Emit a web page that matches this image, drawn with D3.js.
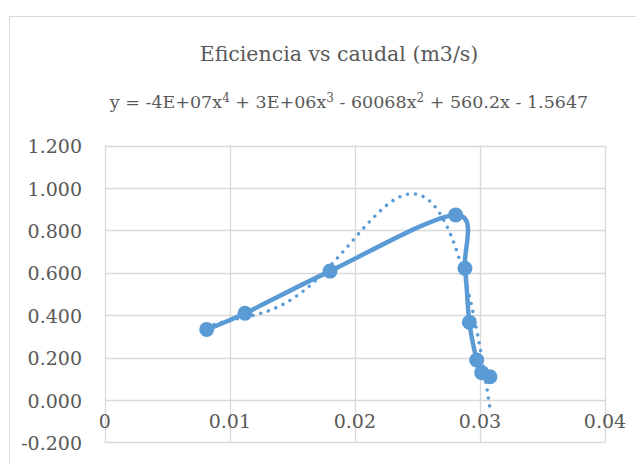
<!DOCTYPE html>
<html>
<head>
<meta charset="utf-8">
<script src="https://cdn.jsdelivr.net/npm/d3@7"></script>
<style>
  html, body { margin: 0; padding: 0; background: #fff; }
  svg { display: block; }
  text { font-family: "DejaVu Serif", "Liberation Serif", serif; fill: #595959; }
</style>
</head>
<body>
<svg id="chart" width="636" height="464"></svg>
<script>
// ---- data ----
const title = "Eficiencia vs caudal (m3/s)";
const caudal = [0.00815, 0.01121, 0.01801, 0.02806, 0.02880, 0.02915, 0.02974, 0.03014, 0.03080];
const eficiencia = [0.333, 0.409, 0.608, 0.873, 0.621, 0.367, 0.189, 0.129, 0.110];
const xTicks = [0, 0.01, 0.02, 0.03, 0.04];
const xTickLabels = ["0", "0.01", "0.02", "0.03", "0.04"];
const yTicks = [-0.2, 0, 0.2, 0.4, 0.6, 0.8, 1.0, 1.2];
const yTickLabels = ["-0.200", "0.000", "0.200", "0.400", "0.600", "0.800", "1.000", "1.200"];
const eqParts = [["y = -4E+07x", ""], ["4", "sup"], [" + 3E+06x", ""], ["3", "sup"], [" - 60068x", ""], ["2", "sup"], [" + 560.2x - 1.5647", ""]];

// ---- layout ----
const svg = d3.select("#chart");
const color = "#5B9BD5";
const grid = "#d9d9d9";
const x = d3.scaleLinear().domain([0, 0.04]).range([104.8, 605]);
const y = d3.scaleLinear().domain([-0.2, 1.2]).range([442.4, 145.6]);

// outer chart border
svg.append("rect").attr("x", 9.5).attr("y", 16.5).attr("width", 700).attr("height", 600)
  .attr("fill", "none").attr("stroke", grid).attr("stroke-width", 1);

// gridlines
svg.append("g").selectAll("line").data(yTicks).join("line")
  .attr("x1", x(0)).attr("x2", x(0.04))
  .attr("y1", d => Math.round(y(d)) + 0.5).attr("y2", d => Math.round(y(d)) + 0.5)
  .attr("stroke", grid).attr("stroke-width", 1.3);
svg.append("g").selectAll("line").data(xTicks).join("line")
  .attr("y1", y(1.2)).attr("y2", y(-0.2))
  .attr("x1", d => Math.round(x(d)) + 0.5).attr("x2", d => Math.round(x(d)) + 0.5)
  .attr("stroke", grid).attr("stroke-width", 1.3);

// y tick labels
svg.append("g").selectAll("text").data(yTicks).join("text")
  .attr("x", 82).attr("y", d => y(d) + 7.5)
  .attr("text-anchor", "end").attr("font-size", 19)
  .text((d, i) => yTickLabels[i]);

// x tick labels (axis crosses at 0)
svg.append("g").selectAll("text").data(xTicks).join("text")
  .attr("x", d => x(d)).attr("y", y(0) + 28)
  .attr("text-anchor", "middle").attr("font-size", 19)
  .text((d, i) => xTickLabels[i]);

// title
svg.append("text").attr("x", 339).attr("y", 61).attr("text-anchor", "middle")
  .attr("font-size", 20.5).text(title);

// equation
const eq = svg.append("text").attr("x", 349).attr("y", 108).attr("text-anchor", "middle").attr("font-size", 17.5);
eqParts.forEach(([t, k]) => {
  const ts = eq.append("tspan").text(t);
  if (k === "sup") ts.attr("font-size", 12).attr("dy", -6);
  else ts.attr("dy", eq.selectAll("tspan").size() > 1 ? 6 : 0);
});

// ---- polynomial (order 4) least-squares trendline ----
function polyfit(xs, ys, deg) {
  const mx = d3.mean(xs), sx = d3.deviation(xs);
  const us = xs.map(v => (v - mx) / sx);
  const n = deg + 1;
  const A = Array.from({length: n}, () => new Array(n + 1).fill(0));
  for (let k = 0; k < us.length; k++) {
    for (let i = 0; i < n; i++) {
      for (let j = 0; j < n; j++) A[i][j] += Math.pow(us[k], i + j);
      A[i][n] += ys[k] * Math.pow(us[k], i);
    }
  }
  for (let i = 0; i < n; i++) {
    let p = i;
    for (let r = i + 1; r < n; r++) if (Math.abs(A[r][i]) > Math.abs(A[p][i])) p = r;
    [A[i], A[p]] = [A[p], A[i]];
    for (let r = 0; r < n; r++) {
      if (r === i) continue;
      const f = A[r][i] / A[i][i];
      for (let c = i; c <= n; c++) A[r][c] -= f * A[i][c];
    }
  }
  const coef = A.map((row, i) => row[n] / row[i]);
  return v => { const u = (v - mx) / sx; return coef.reduce((s, c, i) => s + c * Math.pow(u, i), 0); };
}
const fit = polyfit(caudal, eficiencia, 4);
const xmin = d3.min(caudal), xmax = d3.max(caudal);
const trend = d3.range(0, 301).map(i => { const v = xmin + (xmax - xmin) * i / 300; return [v, fit(v)]; });
svg.append("path").datum(trend)
  .attr("d", d3.line().x(d => x(d[0])).y(d => y(d[1])))
  .attr("fill", "none").attr("stroke", color).attr("stroke-width", 3.6)
  .attr("stroke-linecap", "round").attr("stroke-dasharray", "0 8");

// ---- series smooth line + markers ----
const pts = caudal.map((v, i) => [v, eficiencia[i]]);
svg.append("path").datum(pts)
  .attr("d", d3.line().x(d => x(d[0])).y(d => y(d[1])).curve(d3.curveCardinal.tension(0)))
  .attr("fill", "none").attr("stroke", color).attr("stroke-width", 4.5)
  .attr("stroke-linecap", "round");
svg.append("g").selectAll("circle").data(pts).join("circle")
  .attr("cx", d => x(d[0])).attr("cy", d => y(d[1])).attr("r", 7.5)
  .attr("fill", color);
</script>
</body>
</html>
